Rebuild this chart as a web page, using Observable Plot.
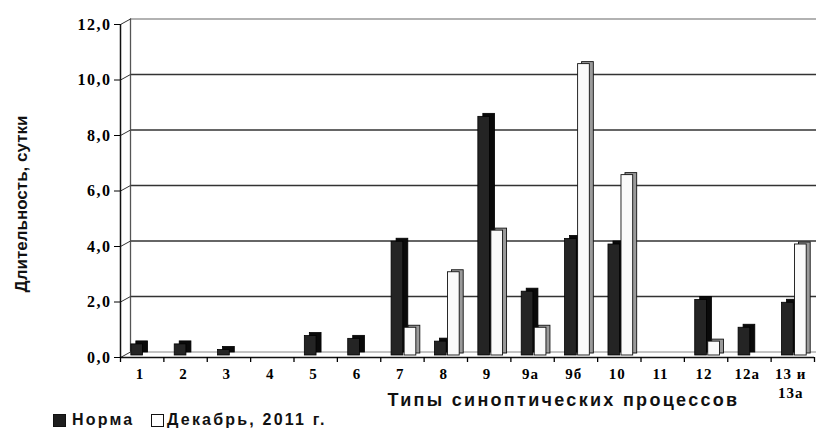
<!DOCTYPE html>
<html>
<head>
<meta charset="utf-8">
<script src="https://cdn.jsdelivr.net/npm/d3@7"></script>
<script src="https://cdn.jsdelivr.net/npm/@observablehq/plot@0.6"></script>
<style>
  body { margin: 0; background: #fff; }
  #chart svg { display: block; }
  #chart g[aria-label="y-axis tick label"] text { letter-spacing: 1.5px; }
  #chart g[aria-label="x-axis tick label"] text { letter-spacing: 1px; }
  #legend { position: relative; height: 20px; font-family: "Liberation Sans", Arial, sans-serif; font-weight: bold; font-size: 16px; letter-spacing: 2.2px; color: #111; }
  #legend span { position: absolute; top: 0; line-height: 20px; white-space: nowrap; }
  #legend .sw { position: absolute; top: 4px; width: 13px; height: 13px; box-sizing: border-box; border: 1px solid #111; }
</style>
</head>
<body>
<div id="chart"></div>
<div id="legend">
  <div class="sw" style="left:53px;background:#1e1e1e"></div><span style="left:72px">Норма</span>
  <div class="sw" style="left:151px;background:#fff"></div><span style="left:167px">Декабрь, 2011 г.</span>
</div>
<script>
const categories = ["1","2","3","4","5","6","7","8","9","9а","9б","10","11","12","12а","13 и\n13а"];
const norma    = [0.4, 0.4, 0.2, null, 0.7, 0.6, 4.1, 0.5, 8.6, 2.3, 4.2, 4.0, null, 2.0, 1.0, 1.9];
const december = [null, null, null, null, null, null, 1.0, 3.0, 4.5, 1.0, 10.5, 6.5, null, 0.5, null, 4.0];
const yTicks = [0, 2, 4, 6, 8, 10, 12];
const yLabel = "Длительность, сутки";
const xLabel = "Типы синоптических процессов";

const rows = categories.map((c, i) => ({i, c, norma: norma[i], dec: december[i]}));
const nRows = rows.filter(d => d.norma != null);
const dRows = rows.filter(d => d.dec != null);

const W = 816, H = 410, ML = 120, MR = 2, MT = 24, MB = 53;
// wall depth in pixels and converted to data units
const WDX = 10, WDY = -5.5;
const ux = WDX / ((W - ML - MR) / categories.length);
const uy = -WDY / ((H - MT - MB) / 12);
const fmt = d => d.toFixed(1).replace(".", ",");

const chart = Plot.plot({
  width: W, height: H,
  marginLeft: ML, marginRight: MR, marginTop: MT, marginBottom: MB,
  x: {domain: [0, categories.length], axis: null},
  y: {domain: [0, 12], axis: null},
  marks: [
    // back wall grid
    Plot.ruleY(yTicks.filter(d => d > 0 && d < 12), {x1: 0, x2: categories.length, dx: WDX, dy: WDY, stroke: "#333", strokeWidth: 1.3}),
    Plot.ruleY([12], {x1: 0, x2: categories.length, dx: WDX, dy: WDY, stroke: "#999", strokeWidth: 1.5}),
    Plot.ruleY([0], {x1: 0, x2: categories.length, dx: WDX, dy: WDY, stroke: "#888", strokeWidth: 1}),
    Plot.ruleX([0], {y1: 0, y2: 12, dx: WDX, dy: WDY, stroke: "#555", strokeWidth: 1.3}),
    Plot.link(yTicks, {x1: 0, y1: d => d, x2: ux, y2: d => d + uy, stroke: "#333", strokeWidth: 1}),
    // front axes
    Plot.ruleX([0], {y1: 0, y2: 12, stroke: "#111", strokeWidth: 1.5}),
    Plot.axisY({ticks: yTicks, tickFormat: fmt, tickSize: 6, tickPadding: 3, label: null,
      fontSize: 16, fontWeight: "bold", fontFamily: "Liberation Serif"}),
    // norma bars (3D)
    Plot.rectY(nRows, {x1: d => d.i + 0.25, x2: d => d.i + 0.52, y1: 0, y2: "norma", dx: 5, dy: -5, fill: "#0a0a0a", stroke: "#000", strokeWidth: 0.8}),
    Plot.rectY(nRows, {x1: d => d.i + 0.25, x2: d => d.i + 0.52, y1: 0, y2: "norma", dy: -2, fill: "#242424", stroke: "#000", strokeWidth: 0.8}),
    // december bars (3D)
    Plot.rectY(dRows, {x1: d => d.i + 0.55, x2: d => d.i + 0.82, y1: 0, y2: "dec", dx: 4, dy: -4, fill: "#9a9a9a", stroke: "#111", strokeWidth: 0.9}),
    Plot.rectY(dRows, {x1: d => d.i + 0.55, x2: d => d.i + 0.82, y1: 0, y2: "dec", dy: -2, fill: "#fafafa", stroke: "#111", strokeWidth: 0.9}),
    // baseline and x ticks
    Plot.ruleY([0], {x1: 0, x2: categories.length, stroke: "#111", strokeWidth: 1.5}),
    Plot.axisX({ticks: d3.range(categories.length + 1), tickFormat: () => "", tickSize: 5, label: null, strokeWidth: 1.3}),
    Plot.axisX({ticks: categories.map((c, i) => i + 0.45), tickFormat: v => categories[Math.floor(v)], tickSize: 0, tickPadding: 8,
      label: null, fontSize: 15, fontWeight: "bold", fontFamily: "Liberation Serif", lineHeight: 1.25}),
    // titles
    Plot.text([yLabel], {frameAnchor: "left", textAnchor: "middle", dx: -99, dy: 13, rotate: -90, text: d => d,
      fontSize: 17, fontWeight: "bold", fontFamily: "Liberation Sans", fill: "#111"}),
    Plot.text([xLabel], {frameAnchor: "bottom", textAnchor: "middle", dx: 96, dy: 48, text: d => d,
      fontSize: 18, fontWeight: "bold", fontFamily: "Liberation Sans", fill: "#111"})
  ]
});
d3.select(chart).selectAll("text").filter(function() { return this.textContent === xLabel; })
  .attr("letter-spacing", "2.3px");
document.getElementById("chart").appendChild(chart);
</script>
</body>
</html>
